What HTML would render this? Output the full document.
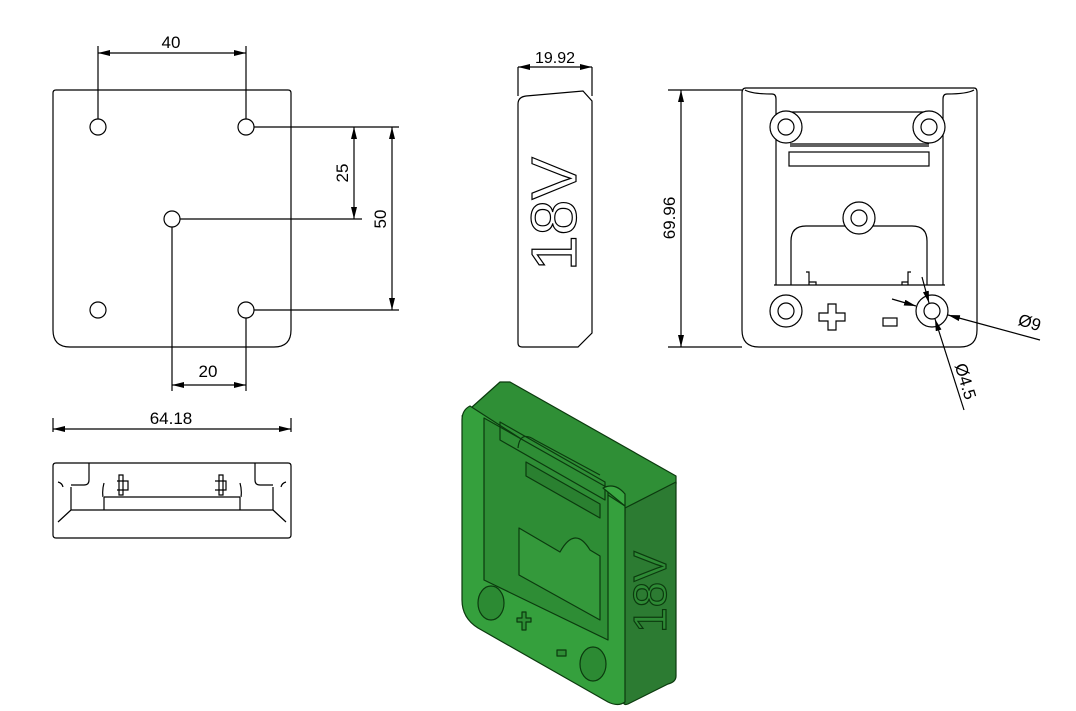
<!DOCTYPE html>
<html><head><style>
html,body{margin:0;padding:0;background:#fff;}
svg{display:block;}
text{font-family:"Liberation Sans",Arial,sans-serif;font-size:17px;fill:#000;}
</style></head><body>
<svg width="1076" height="711" viewBox="0 0 1076 711" xmlns="http://www.w3.org/2000/svg">
<defs>
<marker id="a" viewBox="0 0 12 6" refX="12" refY="3" markerWidth="12" markerHeight="6" orient="auto-start-reverse" markerUnits="userSpaceOnUse"><path d="M0,0 L12,3 L0,6z" fill="#000"/></marker>
</defs>
<g fill="none" stroke="#000" stroke-width="1.2">
<path d="M53,93 Q53,90 56,90 L288,90 Q291,90 291,93 L291,330 Q291,347 274,347 L70,347 Q53,347 53,330 Z"/>
<circle cx="98" cy="127" r="8"/><circle cx="246" cy="127" r="8"/><circle cx="172" cy="219" r="8"/><circle cx="98" cy="310" r="8"/><circle cx="246" cy="310" r="8"/>
<path d="M98,46 V119 M246,46 V119"/>
<line x1="98" y1="53" x2="246" y2="53" marker-start="url(#a)" marker-end="url(#a)"/>
<path d="M254,127 H399 M180,219 H362 M254,310 H399"/>
<line x1="354" y1="127" x2="354" y2="219" marker-start="url(#a)" marker-end="url(#a)"/>
<line x1="392" y1="127" x2="392" y2="310" marker-start="url(#a)" marker-end="url(#a)"/>
<path d="M172,227 V391 M246,318 V391"/>
<line x1="172" y1="385" x2="246" y2="385" marker-start="url(#a)" marker-end="url(#a)"/>
<path d="M53,418 V432 M291,418 V432"/>
<line x1="53" y1="429" x2="291" y2="429" marker-start="url(#a)" marker-end="url(#a)"/>
<path d="M56,463 H288 Q291,463 291,466 V535 Q291,538 288,538 H56 Q53,538 53,535 V466 Q53,463 56,463 Z"/>
<path d="M89,463 V480 Q89,485 84,485 H71 M58,482 Q62,483 63,487 M71,487 V510 M255,463 V480 Q255,485 260,485 H273 M286,482 Q282,483 281,487 M273,487 V510"/>
<path d="M71,510 H273 M71,510 L58,522 M273,510 L286,522"/>
<path d="M104,497 H240 M104,497 V510 M240,497 V510 M104,483 Q102,490 103,497 M240,483 Q242,490 241,497"/>
<path d="M119,475 H123 V495 H119 Z M117,481 H128 V490 H117 M219,475 H223 V495 H219 Z M215,481 H226 V490 H215"/>
<path d="M518,67 V96 M592,67 V96"/>
<line x1="518" y1="67" x2="592" y2="67" marker-start="url(#a)" marker-end="url(#a)"/>
<path d="M518,104 Q518,97 526,96 L583,91 L592,101 V333 L578,347 H522 Q518,347 518,343 Z"/>
<path d="M668,90 H742 M668,347 H742"/>
<line x1="681" y1="90" x2="681" y2="347" marker-start="url(#a)" marker-end="url(#a)"/>
<path d="M742,93 Q742,88 746,88 L974,88 Q977,88 977,92 L977,330 Q977,347 960,347 L759,347 Q742,347 742,330 Z"/>
<path d="M745,90 Q752,94 772,94 Q776,94 776,99 V285 M974,90 Q967,94 947,94 Q943,94 943,99 V285"/>
<path d="M786,112 H929 M790,144 H929 M790,146 H929"/>
<rect x="789" y="152" width="140" height="14"/>
<circle cx="786" cy="127" r="16" fill="#fff"/><circle cx="786" cy="127" r="8"/>
<circle cx="929" cy="127" r="16" fill="#fff"/><circle cx="929" cy="127" r="8"/>
<path d="M791,285 V241 Q791,226 806,226 H912 Q927,226 927,241 V285 M774,285 H945"/>
<circle cx="859" cy="218" r="16" fill="#fff"/><circle cx="859" cy="218" r="8"/>
<path d="M806,272 H809 V285 M809,282 H816 V285 M911,272 H908 V285 M908,282 H902 V285"/>
<circle cx="786" cy="311" r="16"/><circle cx="786" cy="311" r="8"/>
<circle cx="932" cy="311" r="16"/><circle cx="932" cy="311" r="8"/>
<path d="M828,304 H836 V313 H845 V321 H836 V330 H828 V321 H819 V313 H828 Z"/>
<rect x="883" y="318" width="14" height="8"/>
<line x1="892" y1="299" x2="916" y2="306" marker-end="url(#a)"/>
<line x1="1040" y1="340" x2="948" y2="315" marker-end="url(#a)"/>
<line x1="922" y1="277" x2="929" y2="303" marker-end="url(#a)"/>
<line x1="964" y1="410" x2="935" y2="319" marker-end="url(#a)"/>
</g>
<text x="171" y="48" text-anchor="middle">40</text>
<text transform="translate(348,173) rotate(-90)" text-anchor="middle">25</text>
<text transform="translate(386,219) rotate(-90)" text-anchor="middle">50</text>
<text x="208" y="377" text-anchor="middle">20</text>
<text x="171" y="424" text-anchor="middle">64.18</text>
<text x="555" y="63" text-anchor="middle" style="font-size:16px">19.92</text>
<text transform="translate(675,218) rotate(-90)" text-anchor="middle">69.96</text>
<text transform="translate(1028,328) rotate(17)" text-anchor="middle">Ø9</text>
<text transform="translate(960,383) rotate(73)" text-anchor="middle">Ø4.5</text>
<text transform="translate(576,214) rotate(-90)" text-anchor="middle" style="font-size:64px;fill:#fff;stroke:#000;stroke-width:1.2">18V</text>
<g stroke="#0b3a0e" stroke-width="1.2" stroke-linejoin="round">
<path d="M500,382 L510,382 L676,476 L676,484 L625,510 L462,416 Z" fill="#2f8f36"/>
<path d="M625,508 L676,482 L676,676 Q676,682 668,684 L628,704 Q623,706 623,700 Z" fill="#2c7b32"/>
<path d="M470,406 L625,506 L625,702 Q618,707 608,702 L478,628 Q462,618 462,600 L462,420 Q462,410 470,406 Z" fill="#35a03d"/>
<path d="M484,418 L608,488 L608,640 L484,580 Z" fill="#2e8d35"/>
<path d="M500,422 L605,482 L605,500 L500,440 Z M518,448 Q520,430 535,440 L600,475" fill="none"/>
<path d="M519,528 L560,552 Q575,525 590,550 L600,556 L600,620 L519,575 Z" fill="#34993b"/>
<path d="M526,462 L600,504 L600,518 L526,476 Z" fill="#2a8030"/>
<path d="M603,488 Q615,482 625,494 L625,506 Z" fill="#3aa842"/>
<ellipse cx="491" cy="603" rx="13" ry="17" fill="#2c8a33"/>
<ellipse cx="593" cy="664" rx="13" ry="17" fill="#2c8a33"/>
<path d="M517,618 H522 V612 H526 V618 H531 V622 H526 V630 H522 V622 H517 Z" fill="#2e8d35"/>
<rect x="557" y="650" width="9" height="6" fill="#2e8d35"/>
</g>
<text transform="translate(666,592) rotate(-90)" text-anchor="middle" style="font-size:46px;fill:#2e8a35;stroke:#0b3a0e;stroke-width:1.2">18V</text>
</svg>
</body></html>
